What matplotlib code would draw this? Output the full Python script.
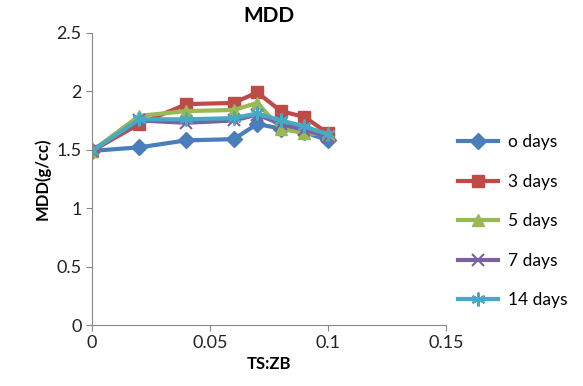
import numpy as np
import matplotlib.pyplot as plt

plt.rcParams['font.family'] = ['Lato', 'DejaVu Sans']

ratio = [0, 0.02, 0.04, 0.06, 0.07, 0.08, 0.09, 0.1]
mdd_0 = [1.49, 1.52, 1.58, 1.59, 1.72, 1.68, 1.65, 1.58]
mdd_3 = [1.49, 1.72, 1.89, 1.90, 1.99, 1.83, 1.78, 1.64]
mdd_5 = [1.49, 1.79, 1.83, 1.84, 1.90, 1.68, 1.64, 1.63]
mdd_7 = [1.49, 1.75, 1.73, 1.75, 1.80, 1.72, 1.67, 1.61]
mdd_14 = [1.49, 1.76, 1.76, 1.77, 1.81, 1.75, 1.70, 1.63]
labels = ['o days', '3 days', '5 days', '7 days', '14 days']

fig = plt.figure(figsize=(5.83, 3.86), dpi=100)
ax = fig.add_axes([0.158, 0.158, 0.607, 0.757])

ax.plot(ratio, mdd_0, color='#4a7ebb', lw=3, marker='D', ms=8, label=labels[0])
ax.plot(ratio, mdd_3, color='#be4b48', lw=3, marker='s', ms=9, label=labels[1])
ax.plot(ratio, mdd_5, color='#98b954', lw=3, marker='^', ms=9, label=labels[2])
ax.plot(ratio, mdd_7, color='#7d60a0', lw=3, marker='x', ms=9, mew=1.5, label=labels[3])
ax.plot(ratio, mdd_14, color='#46aac5', lw=3, marker=(6, 2, 0), ms=10, mew=1.5, label=labels[4])

ax.set_xlim(0, 0.15)
ax.set_ylim(0, 2.5)
ax.set_xticks([0, 0.05, 0.1, 0.15])
ax.set_xticklabels(['0', '0.05', '0.1', '0.15'])
ax.set_yticks([0, 0.5, 1, 1.5, 2, 2.5])
ax.set_yticklabels(['0', '0.5', '1', '1.5', '2', '2.5'])
ax.tick_params(direction='out', length=4, color='#888888', labelsize=13, labelcolor='#222222')
for s in ['top', 'right']:
    ax.spines[s].set_visible(False)
for s in ['left', 'bottom']:
    ax.spines[s].set_color('#888888')

ax.set_title('MDD', fontsize=15, fontweight='bold', pad=8)
ax.set_xlabel('TS:ZB', fontsize=12, fontweight='bold', labelpad=3)
ax.set_ylabel('MDD(g/cc)', fontsize=12, fontweight='bold', labelpad=4)

ax.legend(loc='center left', bbox_to_anchor=(0.99, 0.355), frameon=False, fontsize=12.5,
          handlelength=2.3, labelspacing=1.35, handletextpad=0.6)

fig.savefig('out.png')
